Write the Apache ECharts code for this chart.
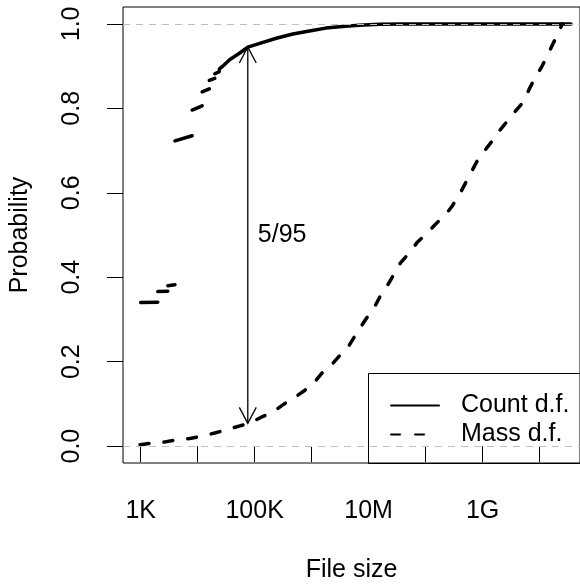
<!DOCTYPE html>
<html><head><meta charset="utf-8">
<script src="https://cdn.jsdelivr.net/npm/echarts@6/dist/echarts.min.js"></script>
<style>html,body{margin:0;padding:0;background:#fff}#c{width:580px;height:588px}</style>
</head><body><div id="c"></div>
<script>
// x values are log10(file size in bytes)
const xTickValues = [3, 4, 5, 6, 7, 8, 9, 10];
const xLabelValues = [3, 5, 7, 9];
const xLabelText = { 3: '1K', 5: '100K', 7: '10M', 9: '1G' };
const yTickValues = [0, 0.2, 0.4, 0.6, 0.8, 1.0];

// Count d.f. : separate pieces (step-like at 4K block multiples), then continuous
const countSeg1 = [[3.0, 0.340], [3.301, 0.341]];
const countSeg2 = [[3.301, 0.366], [3.477, 0.367]];
const countSeg3 = [[3.477, 0.380], [3.602, 0.382]];
const countSeg4 = [[3.602, 0.723], [3.903, 0.735]];
const countSeg5 = [[3.903, 0.796], [4.079, 0.806]];
const countSeg6 = [[4.079, 0.839], [4.204, 0.846]];
const countSeg7 = [[4.204, 0.866], [4.301, 0.871]];
const countSeg8 = [[4.301, 0.882], [4.380, 0.887]];
const countTail = [[4.380, 0.893], [4.45, 0.901], [4.56, 0.915], [4.74, 0.931], [4.88, 0.945],
  [5.09, 0.954], [5.38, 0.966], [5.67, 0.976], [5.96, 0.983], [6.25, 0.990], [6.54, 0.994],
  [6.83, 0.997], [7.2, 0.999], [7.6, 1.0], [10.55, 1.0]];

// Mass d.f.
const massCurve = [[2.99, 0.003], [3.2, 0.007], [3.43, 0.010], [3.63, 0.015], [3.86, 0.018],
  [4.05, 0.023], [4.30, 0.031], [4.49, 0.038], [4.74, 0.048], [4.91, 0.054], [5.14, 0.070],
  [5.32, 0.081], [5.52, 0.100], [5.70, 0.115], [5.87, 0.131], [6.02, 0.147], [6.19, 0.174],
  [6.36, 0.194], [6.51, 0.217], [6.66, 0.239], [6.78, 0.265], [6.88, 0.286], [7.01, 0.312],
  [7.13, 0.336], [7.23, 0.362], [7.35, 0.385], [7.475, 0.414], [7.56, 0.434], [7.74, 0.462],
  [7.85, 0.482], [8.03, 0.505], [8.17, 0.525], [8.35, 0.548], [8.465, 0.568], [8.61, 0.600],
  [8.70, 0.623], [8.81, 0.651], [8.90, 0.674], [9.05, 0.702], [9.165, 0.722], [9.31, 0.749],
  [9.43, 0.769], [9.60, 0.797], [9.72, 0.816], [9.82, 0.846], [9.91, 0.869], [10.04, 0.899],
  [10.13, 0.923], [10.24, 0.954], [10.32, 0.976], [10.40, 1.0]];

const refLines = [0, 1];
const arrowX = 4.88, arrowLow = 0.054, arrowHigh = 0.945, arrowMid = 0.5;
const arrowLabel = '5/95';
const seriesNames = ['Count d.f.', 'Mass d.f.'];

const FONT = "'Liberation Sans', Arial, Helvetica, sans-serif";
const countPieces = [countSeg1, countSeg2, countSeg3, countSeg4, countSeg5, countSeg6, countSeg7, countSeg8, countTail];
const countData = [];
countPieces.forEach((p, i) => {
  if (i > 0) countData.push([p[0][0], '-']);
  p.forEach(d => countData.push(d));
});

const chart = echarts.init(document.getElementById('c'), null, { renderer: 'canvas' });
chart.setOption({
  animation: false,
  backgroundColor: '#fff',
  grid: { left: 123, right: -2, top: 7, bottom: 124, show: true, borderColor: '#000', borderWidth: 1, backgroundColor: 'transparent' },
  graphic: [
    { type: 'rect', z: 10, silent: true, shape: { x: 368.5, y: 373.5, width: 240, height: 90 }, style: { fill: null, stroke: '#000', lineWidth: 1 } }
  ],
  xAxis: {
    type: 'value', min: 2.69, max: 10.71,
    axisLine: { show: false },
    splitLine: { show: false },
    axisTick: { show: true, customValues: xTickValues, length: 16, lineStyle: { color: '#000', width: 1 } },
    axisLabel: { customValues: xLabelValues, formatter: v => xLabelText[Math.round(v)] || '', fontSize: 25, fontFamily: FONT, color: '#000', margin: 36 },
    name: 'File size', nameLocation: 'middle', nameGap: 95,
    nameTextStyle: { fontSize: 25, fontFamily: FONT, color: '#000' }
  },
  yAxis: {
    type: 'value', min: -0.04, max: 1.04,
    axisLine: { show: false },
    splitLine: { show: false },
    axisTick: { show: true, customValues: yTickValues, length: 16, lineStyle: { color: '#000', width: 1 } },
    axisLabel: { customValues: yTickValues, formatter: v => v.toFixed(1), rotate: 90, fontSize: 25, fontFamily: FONT, color: '#000', margin: 38 },
    name: 'Probability', nameLocation: 'middle', nameGap: 90,
    nameTextStyle: { fontSize: 25, fontFamily: FONT, color: '#000' }
  },
  legend: {
    orient: 'vertical', left: 368, top: 373,
    padding: [20, 10, 17, 22], itemGap: 4, itemWidth: 48, itemHeight: 14,
    borderWidth: 0,
    itemStyle: { opacity: 0 },
    textStyle: { fontSize: 25, fontFamily: FONT, color: '#000', padding: [0, 0, 0, 17], lineHeight: 25 },
    data: seriesNames
  },
  series: [
    {
      name: seriesNames[0], type: 'line', data: countData, symbol: 'none', connectNulls: false,
      lineStyle: { color: '#000', width: 3.5, cap: 'round', join: 'round' }, z: 3
    },
    {
      name: seriesNames[1], type: 'line', data: massCurve, symbol: 'none', clip: false,
      lineStyle: { color: '#000', width: 3.5, type: [9, 15], cap: 'round', join: 'round' }, z: 3
    },
    {
      type: 'custom', z: 4, silent: true,
      data: [[arrowX, arrowLow, arrowHigh, arrowMid]],
      renderItem: (params, api) => {
        const x = api.value(0);
        const pLow = api.coord([x, api.value(1)]);
        const pHigh = api.coord([x, api.value(2)]);
        const pMid = api.coord([x, api.value(3)]);
        const L = 18, ang = 28 * Math.PI / 180;
        const dx = L * Math.sin(ang), dy = L * Math.cos(ang);
        const st = { stroke: '#000', lineWidth: 1.3, fill: null };
        return {
          type: 'group', children: [
            { type: 'line', shape: { x1: pLow[0], y1: pLow[1], x2: pHigh[0], y2: pHigh[1] }, style: st },
            { type: 'polyline', shape: { points: [[pHigh[0] - dx, pHigh[1] + dy], pHigh, [pHigh[0] + dx, pHigh[1] + dy]] }, style: st },
            { type: 'polyline', shape: { points: [[pLow[0] - dx, pLow[1] - dy], pLow, [pLow[0] + dx, pLow[1] - dy]] }, style: st },
            { type: 'text', x: pMid[0] + 10, y: pMid[1], style: { text: arrowLabel, fontSize: 25, fontFamily: FONT, fill: '#000', align: 'left', verticalAlign: 'middle' } }
          ]
        };
      }
    },
    {
      type: 'line', data: [], z: 5, silent: true,
      markLine: {
        silent: true, symbol: 'none', label: { show: false },
        lineStyle: { color: '#bebebe', type: [7, 6], width: 1.2 },
        data: refLines.map(v => ({ yAxis: v }))
      }
    }
  ]
});
</script></body></html>
